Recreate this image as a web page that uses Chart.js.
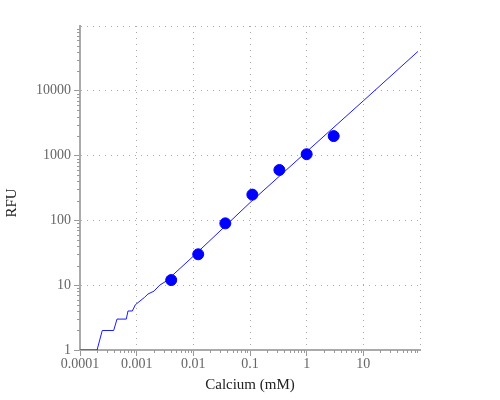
<!DOCTYPE html>
<html>
<head>
<meta charset="utf-8">
<script src="https://cdn.jsdelivr.net/npm/chart.js@4.4.1/dist/chart.umd.min.js"></script>
<style>
  html, body { margin: 0; padding: 0; background: #fff; }
  #wrap { width: 500px; height: 400px; position: relative; }
</style>
</head>
<body>
<div id="wrap"><canvas id="c" width="500" height="400"></canvas></div>
<script>
// ---- data ----
const pointX = [0.00407, 0.0122, 0.0367, 0.11, 0.33, 1.0, 3.0];
const pointY = [12, 30, 90, 250, 600, 1050, 2000];

const fitX = [0.0001, 0.0002, 0.000247, 0.000393, 0.00045, 0.000656, 0.000703, 0.000838, 0.00095, 0.00138, 0.00158, 0.00202, 0.00255, 0.00333, 0.01, 0.1, 1, 10, 92];
const fitY = [1, 1, 2, 2, 3, 3, 4, 4, 5, 6.5, 7.3, 8.1, 10, 11.6, 28, 188, 1150, 7000, 40500];

const xTicks = [0.0001, 0.001, 0.01, 0.1, 1, 10, 100];
const xTickLabels = ['0.0001', '0.001', '0.01', '0.1', '1', '10', ''];
const yTicks = [1, 10, 100, 1000, 10000, 100000];
const yTickLabels = ['1', '10', '100', '1000', '10000', ''];

const xTitle = 'Calcium (mM)';
const yTitle = 'RFU';
// --------------------------------------

const fitData = fitX.map((x, i) => ({ x: x, y: fitY[i] }));
const pointData = pointX.map((x, i) => ({ x: x, y: pointY[i] }));

const SERIF = '"Liberation Serif", "Times New Roman", serif';

const minorTicksPlugin = {
  id: 'minorTicks',
  afterDatasetsDraw(chart) {
    const ctx = chart.ctx;
    const xs = chart.scales.x, ys = chart.scales.y;
    const ca = chart.chartArea;
    ctx.save();
    ctx.strokeStyle = '#999';
    ctx.lineWidth = 1;
    ctx.beginPath();
    for (let d = -4; d < 2; d++) {
      for (let k = 2; k <= 9; k++) {
        const v = k * Math.pow(10, d);
        const px = Math.round(xs.getPixelForValue(v)) + 0.5;
        ctx.moveTo(px, ca.bottom);
        ctx.lineTo(px, ca.bottom + 3);
      }
    }
    for (let d = 0; d < 5; d++) {
      for (let k = 2; k <= 9; k++) {
        const v = k * Math.pow(10, d);
        const py = Math.round(ys.getPixelForValue(v)) + 0.5;
        ctx.moveTo(ca.left - 3, py);
        ctx.lineTo(ca.left, py);
      }
    }
    ctx.stroke();
    ctx.restore();
  },
  afterDraw(chart) {
    const ctx = chart.ctx;
    ctx.save();
    ctx.translate(12, 203);
    ctx.rotate(-Math.PI / 2);
    ctx.fillStyle = '#222';
    ctx.font = '15px ' + SERIF;
    ctx.textAlign = 'center';
    ctx.textBaseline = 'middle';
    ctx.fillText(yTitle, 0, 0);
    ctx.restore();
  }
};

new Chart(document.getElementById('c'), {
  type: 'scatter',
  data: {
    datasets: [
      {
        type: 'line',
        label: 'fit',
        data: fitData,
        borderColor: '#1a1aff',
        borderWidth: 1,
        pointRadius: 0,
        tension: 0,
        fill: false,
        order: 2
      },
      {
        type: 'scatter',
        label: 'data',
        data: pointData,
        backgroundColor: '#0000ff',
        borderColor: '#0000ff',
        pointRadius: 5.5,
        pointHoverRadius: 5.5,
        order: 1
      }
    ]
  },
  options: {
    responsive: false,
    animation: false,
    events: [],
    layout: { padding: { left: 0, top: 26, right: 80, bottom: 0 } },
    plugins: {
      legend: { display: false },
      tooltip: { enabled: false }
    },
    scales: {
      x: {
        type: 'logarithmic',
        min: 0.0001,
        max: 100,
        afterBuildTicks(scale) {
          scale.ticks = xTicks.map(v => ({ value: v }));
        },
        afterFit(scale) { scale.height = 50; },
        ticks: {
          autoSkip: false,
          maxRotation: 0,
          padding: 0,
          color: '#666',
          font: { family: SERIF, size: 14 },
          callback(value) {
            const i = xTicks.indexOf(value);
            return i >= 0 ? xTickLabels[i] : '';
          }
        },
        grid: {
          color: '#aaa',
          lineWidth: 1,
          tickLength: 6,
          tickColor: (c) => (c.tick && c.tick.value === 100 ? 'rgba(0,0,0,0)' : '#999'),
          drawTicks: true
        },
        border: { display: true, color: '#aaa', width: 2, dash: [1, 5] },
        title: {
          display: true,
          text: xTitle,
          color: '#222',
          font: { family: SERIF, size: 15 },
          padding: { top: 0, bottom: 6 }
        }
      },
      y: {
        type: 'logarithmic',
        min: 1,
        max: 100000,
        afterBuildTicks(scale) {
          scale.ticks = yTicks.map(v => ({ value: v }));
        },
        afterFit(scale) { scale.width = 80; },
        ticks: {
          autoSkip: false,
          padding: 3,
          color: '#666',
          font: { family: SERIF, size: 14 },
          callback(value) {
            const i = yTicks.indexOf(value);
            return i >= 0 ? yTickLabels[i] : '';
          }
        },
        grid: {
          color: '#aaa',
          lineWidth: 1,
          tickLength: 6,
          tickColor: (c) => (c.tick && c.tick.value === 100000 ? 'rgba(0,0,0,0)' : '#999'),
          drawTicks: true
        },
        border: { display: true, color: '#aaa', width: 2, dash: [1, 5] }
      }
    }
  },
  plugins: [minorTicksPlugin]
});
</script>
</body>
</html>
